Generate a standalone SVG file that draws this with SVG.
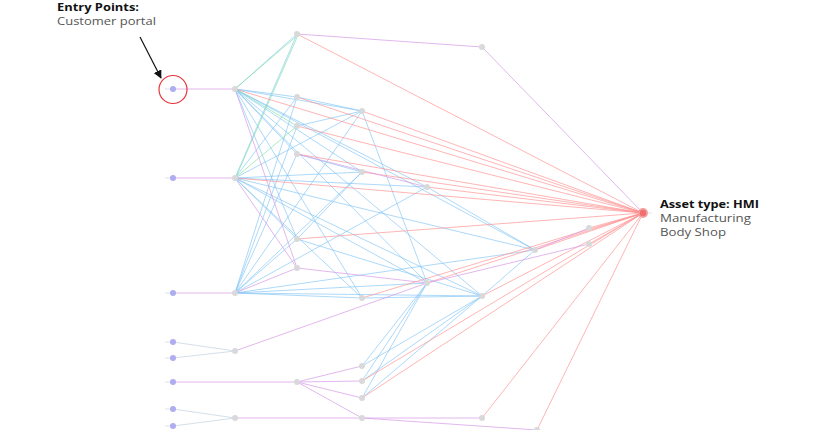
<svg xmlns="http://www.w3.org/2000/svg" width="835" height="430" viewBox="0 0 835 430">
<defs>
<style>
.b{stroke:#7cc2f6;stroke-width:0.9;opacity:0.7;fill:none}
.r{stroke:#ff8c8c;stroke-width:0.9;opacity:0.72;fill:none}
.p{stroke:#d79be8;stroke-width:0.9;opacity:0.8;fill:none}
.g{stroke:#84e4a8;stroke-width:0.9;opacity:0.8;fill:none}
.l{stroke:#cfdbe8;stroke-width:0.9;fill:none}
.ep{fill:#adadef}
.st{stroke:#d6d6ea;stroke-width:0.8}
.n{fill:#d9d9d9}
.tb{font-family:"Open Sans","Liberation Sans",sans-serif;font-weight:bold;font-size:11px;fill:#111}
.tr{font-family:"Open Sans","Liberation Sans",sans-serif;font-size:11px;fill:#555}
</style>
<marker id="ah" viewBox="0 0 10 10" refX="9" refY="5" markerWidth="7" markerHeight="7" orient="auto-start-reverse">
<path d="M0,0 L10,5 L0,10 z" fill="#111"/>
</marker>
</defs>
<rect width="835" height="430" fill="#fff"/>
<g id="connectors">
<line class="b" x1="235" y1="89" x2="297" y2="34"/>
<line class="b" x1="235" y1="89" x2="297" y2="97"/>
<line class="b" x1="235" y1="89" x2="362" y2="111"/>
<line class="b" x1="235" y1="89" x2="297" y2="154"/>
<line class="b" x1="235" y1="89" x2="362" y2="172"/>
<line class="b" x1="235" y1="89" x2="427" y2="187"/>
<line class="b" x1="235" y1="89" x2="297" y2="239"/>
<line class="b" x1="235" y1="89" x2="427" y2="283"/>
<line class="b" x1="235" y1="89" x2="482" y2="296"/>
<line class="b" x1="235" y1="89" x2="362" y2="298"/>
<line class="b" x1="235" y1="89" x2="535" y2="250"/>
<line class="b" x1="235" y1="178" x2="297" y2="34"/>
<line class="b" x1="235" y1="178" x2="297" y2="97"/>
<line class="b" x1="235" y1="178" x2="362" y2="111"/>
<line class="b" x1="235" y1="178" x2="362" y2="172"/>
<line class="b" x1="235" y1="178" x2="427" y2="187"/>
<line class="b" x1="235" y1="178" x2="297" y2="239"/>
<line class="b" x1="235" y1="178" x2="427" y2="283"/>
<line class="b" x1="235" y1="178" x2="482" y2="296"/>
<line class="b" x1="235" y1="178" x2="362" y2="298"/>
<line class="b" x1="235" y1="178" x2="535" y2="250"/>
<line class="b" x1="235" y1="293" x2="297" y2="97"/>
<line class="b" x1="235" y1="293" x2="297" y2="126"/>
<line class="b" x1="235" y1="293" x2="297" y2="154"/>
<line class="b" x1="235" y1="293" x2="362" y2="111"/>
<line class="b" x1="235" y1="293" x2="362" y2="172"/>
<line class="b" x1="235" y1="293" x2="427" y2="187"/>
<line class="b" x1="235" y1="293" x2="297" y2="239"/>
<line class="b" x1="235" y1="293" x2="427" y2="283"/>
<line class="b" x1="235" y1="293" x2="482" y2="296"/>
<line class="b" x1="235" y1="293" x2="362" y2="298"/>
<line class="b" x1="235" y1="293" x2="535" y2="250"/>
<line class="b" x1="297" y1="97" x2="362" y2="111"/>
<line class="b" x1="297" y1="126" x2="362" y2="111"/>
<line class="b" x1="297" y1="154" x2="362" y2="172"/>
<line class="b" x1="362" y1="111" x2="427" y2="283"/>
<line class="b" x1="362" y1="172" x2="297" y2="239"/>
<line class="b" x1="427" y1="187" x2="535" y2="250"/>
<line class="b" x1="482" y1="296" x2="535" y2="250"/>
<line class="b" x1="297" y1="239" x2="482" y2="296"/>
<line class="b" x1="362" y1="298" x2="482" y2="296"/>
<line class="b" x1="362" y1="366" x2="427" y2="283"/>
<line class="b" x1="362" y1="381" x2="427" y2="283"/>
<line class="b" x1="362" y1="398" x2="427" y2="283"/>
<line class="b" x1="362" y1="366" x2="482" y2="296"/>
<line class="b" x1="362" y1="381" x2="482" y2="296"/>
<line class="b" x1="362" y1="398" x2="482" y2="296"/>
<line class="g" x1="236" y1="88" x2="298" y2="35"/>
<line class="g" x1="236" y1="177" x2="298" y2="35"/>
<line class="g" x1="235" y1="89" x2="297" y2="126"/>
<line class="g" x1="235" y1="178" x2="297" y2="126"/>
<line class="r" x1="235" y1="89" x2="643" y2="213"/>
<line class="r" x1="235" y1="178" x2="643" y2="213"/>
<line class="r" x1="297" y1="34" x2="643" y2="213"/>
<line class="r" x1="297" y1="97" x2="643" y2="213"/>
<line class="r" x1="297" y1="126" x2="643" y2="213"/>
<line class="r" x1="297" y1="154" x2="643" y2="213"/>
<line class="r" x1="297" y1="239" x2="643" y2="213"/>
<line class="r" x1="362" y1="111" x2="643" y2="213"/>
<line class="r" x1="362" y1="172" x2="643" y2="213"/>
<line class="r" x1="427" y1="187" x2="643" y2="213"/>
<line class="r" x1="362" y1="298" x2="643" y2="213"/>
<line class="r" x1="427" y1="283" x2="643" y2="213"/>
<line class="r" x1="482" y1="296" x2="643" y2="213"/>
<line class="r" x1="535" y1="250" x2="643" y2="213"/>
<line class="r" x1="589" y1="228" x2="643" y2="213"/>
<line class="r" x1="589" y1="244" x2="643" y2="213"/>
<line class="r" x1="362" y1="381" x2="643" y2="213"/>
<line class="r" x1="362" y1="398" x2="643" y2="213"/>
<line class="r" x1="482" y1="418" x2="643" y2="213"/>
<line class="r" x1="537" y1="430" x2="643" y2="213"/>
<line class="p" x1="173" y1="89" x2="235" y2="89"/>
<line class="p" x1="173" y1="178" x2="235" y2="178"/>
<line class="p" x1="173" y1="293" x2="235" y2="293"/>
<line class="p" x1="173" y1="382" x2="297" y2="382"/>
<line class="p" x1="235" y1="89" x2="297" y2="268"/>
<line class="p" x1="235" y1="178" x2="297" y2="268"/>
<line class="p" x1="235" y1="293" x2="297" y2="268"/>
<line class="p" x1="297" y1="268" x2="427" y2="283"/>
<line class="p" x1="297" y1="154" x2="427" y2="187"/>
<line class="p" x1="427" y1="283" x2="589" y2="244"/>
<line class="p" x1="535" y1="250" x2="589" y2="228"/>
<line class="p" x1="235" y1="351" x2="427" y2="283"/>
<line class="p" x1="297" y1="34" x2="482" y2="47"/>
<line class="p" x1="482" y1="47" x2="643" y2="213"/>
<line class="p" x1="297" y1="382" x2="362" y2="366"/>
<line class="p" x1="297" y1="382" x2="362" y2="381"/>
<line class="p" x1="297" y1="382" x2="362" y2="398"/>
<line class="p" x1="297" y1="382" x2="362" y2="418"/>
<line class="p" x1="235" y1="418" x2="482" y2="418"/>
<line class="p" x1="362" y1="418" x2="537" y2="430"/>
<line class="l" x1="173" y1="342" x2="235" y2="351"/>
<line class="l" x1="173" y1="358" x2="235" y2="351"/>
<line class="l" x1="173" y1="409" x2="235" y2="418"/>
<line class="l" x1="173" y1="426" x2="235" y2="418"/>
<line x1="140" y1="37" x2="161" y2="78" stroke="#111" stroke-width="1.2" marker-end="url(#ah)"/>
</g>
<g id="E1"><line class="st" x1="165" y1="89" x2="173" y2="89"/><circle class="ep" cx="173" cy="89" r="3"/><circle cx="173" cy="89.5" r="14" fill="none" stroke="#e8343a" stroke-width="1.2"/></g>
<g id="E2"><line class="st" x1="165" y1="178" x2="173" y2="178"/><circle class="ep" cx="173" cy="178" r="3"/></g>
<g id="E3"><line class="st" x1="165" y1="293" x2="173" y2="293"/><circle class="ep" cx="173" cy="293" r="3"/></g>
<g id="E4"><line class="st" x1="165" y1="342" x2="173" y2="342"/><circle class="ep" cx="173" cy="342" r="3"/></g>
<g id="E5"><line class="st" x1="165" y1="358" x2="173" y2="358"/><circle class="ep" cx="173" cy="358" r="3"/></g>
<g id="E6"><line class="st" x1="165" y1="382" x2="173" y2="382"/><circle class="ep" cx="173" cy="382" r="3"/></g>
<g id="E7"><line class="st" x1="165" y1="409" x2="173" y2="409"/><circle class="ep" cx="173" cy="409" r="3"/></g>
<g id="E8"><line class="st" x1="165" y1="426" x2="173" y2="426"/><circle class="ep" cx="173" cy="426" r="3"/></g>
<g id="A1"><circle class="n" cx="235" cy="89" r="3"/></g>
<g id="A2"><circle class="n" cx="235" cy="178" r="3"/></g>
<g id="A3"><circle class="n" cx="235" cy="293" r="3"/></g>
<g id="A4"><circle class="n" cx="235" cy="351" r="3"/></g>
<g id="A5"><circle class="n" cx="235" cy="418" r="3"/></g>
<g id="B1"><circle class="n" cx="297" cy="34" r="3"/></g>
<g id="B2"><circle class="n" cx="297" cy="97" r="3"/></g>
<g id="B3"><circle class="n" cx="297" cy="126" r="3"/></g>
<g id="B4"><circle class="n" cx="297" cy="154" r="3"/></g>
<g id="B5"><circle class="n" cx="297" cy="239" r="3"/></g>
<g id="B6"><circle class="n" cx="297" cy="268" r="3"/></g>
<g id="B7"><circle class="n" cx="297" cy="382" r="3"/></g>
<g id="C1"><circle class="n" cx="362" cy="111" r="3"/></g>
<g id="C2"><circle class="n" cx="362" cy="172" r="3"/></g>
<g id="C3"><circle class="n" cx="362" cy="298" r="3"/></g>
<g id="C4"><circle class="n" cx="362" cy="366" r="3"/></g>
<g id="C5"><circle class="n" cx="362" cy="381" r="3"/></g>
<g id="C6"><circle class="n" cx="362" cy="398" r="3"/></g>
<g id="C7"><circle class="n" cx="362" cy="418" r="3"/></g>
<g id="D1"><circle class="n" cx="427" cy="187" r="3"/></g>
<g id="D2"><circle class="n" cx="427" cy="283" r="3"/></g>
<g id="F1"><circle class="n" cx="482" cy="47" r="3"/></g>
<g id="F2"><circle class="n" cx="482" cy="296" r="3"/></g>
<g id="F3"><circle class="n" cx="482" cy="418" r="3"/></g>
<g id="G1"><circle class="n" cx="535" cy="250" r="3"/></g>
<g id="G3"><circle class="n" cx="537" cy="430" r="3"/></g>
<g id="H1"><circle class="n" cx="589" cy="228" r="3"/></g>
<g id="H2"><circle class="n" cx="589" cy="244" r="3"/></g>
<g id="T"><line x1="643" y1="213" x2="652" y2="213" stroke="#dddddd" stroke-width="0.8"/><circle cx="643" cy="213" r="5" fill="#f4a0a0"/><circle cx="643" cy="213" r="3.2" fill="#ee7070"/></g>
<g id="label-entry">
<text class="tb" x="57" y="11" textLength="82" lengthAdjust="spacingAndGlyphs">Entry Points:</text>
<text class="tr" x="57" y="25" textLength="99" lengthAdjust="spacingAndGlyphs">Customer portal</text>
</g>
<g id="label-asset">
<text class="tb" x="660" y="208" textLength="99" lengthAdjust="spacingAndGlyphs">Asset type: HMI</text>
<text class="tr" x="660" y="222" textLength="91" lengthAdjust="spacingAndGlyphs">Manufacturing</text>
<text class="tr" x="660" y="236" textLength="66" lengthAdjust="spacingAndGlyphs">Body Shop</text>
</g>
</svg>
